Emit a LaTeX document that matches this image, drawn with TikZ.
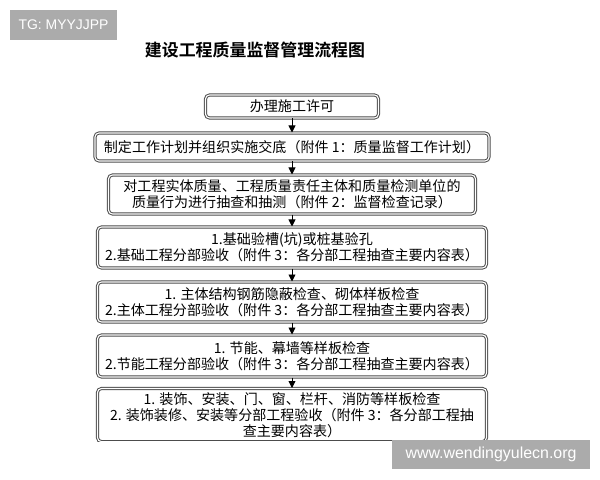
\documentclass[tikz,border=0pt]{standalone}
\usepackage{fontspec}
\newfontfamily\cjk{Noto Sans CJK SC}[BoldFont={Noto Sans CJK SC Bold}]
\setsansfont{Liberation Sans}
\usetikzlibrary{arrows.meta,positioning}

\begin{document}
\begin{tikzpicture}[x=1bp,y=-1bp,
    flowbox/.style={draw=black!70, double=white, double distance=1.1bp, line width=1bp,
      rounded corners=4bp, align=center, inner sep=2bp, font=\cjk\fontsize{14.1}{16}\selectfont},
    flowarrow/.style={-{Triangle[width=7bp,length=7bp]}, line width=0.9bp},
    wmark/.style={fill=black!33, text=white, inner sep=0pt}]
        \useasboundingbox (0,0) rectangle (600,480);

        % Title
        \node[font=\cjk\bfseries\fontsize{17}{17}\selectfont] (title) at (255,50) {建设工程质量监督管理流程图};

        % Steps
        \node[flowbox, minimum width=173bp, minimum height=23bp] (permit) at (292,106.5) {办理施工许可};
        \node[flowbox, minimum width=394bp, minimum height=28bp] (plan) at (292,147) {制定工作计划并组织实施交底（附件 1：质量监督工作计划）};
        \node[flowbox, minimum width=367bp, minimum height=39bp] (check) at (292,194.5) {对工程实体质量、工程质量责任主体和质量检测单位的\\质量行为进行抽查和抽测（附件 2：监督检查记录）};
        \node[flowbox, minimum width=389bp, minimum height=41bp] (found) at (292,247.5) {1.基础验槽(坑)或桩基验孔\\2.基础工程分部验收（附件 3：各分部工程抽查主要内容表）};
        \node[flowbox, minimum width=389bp, minimum height=40bp] (frame) at (292,302) {1. 主体结构钢筋隐蔽检查、砌体样板检查\\2.主体工程分部验收（附件 3：各分部工程抽查主要内容表）};
        \node[flowbox, minimum width=389bp, minimum height=42bp] (energy) at (292,356) {1. 节能、幕墙等样板检查\\2.节能工程分部验收（附件 3：各分部工程抽查主要内容表）};

        % Last step, cut off at the bottom
        \begin{scope}
            \clip (0,0) rectangle (600,441);
            \node[flowbox, anchor=north, minimum width=389bp, inner ysep=4bp] (finish) at (292,388) {1. 装饰、安装、门、窗、栏杆、消防等样板检查\\2. 装饰装修、安装等分部工程验收（附件 3：各分部工程抽\\查主要内容表）};
        \end{scope}

        % Arrows
        \draw[flowarrow] (permit) -- (plan);
        \draw[flowarrow] (plan) -- (check);
        \draw[flowarrow] (check) -- (found);
        \draw[flowarrow] (found) -- (frame);
        \draw[flowarrow] (frame) -- (energy);
        \draw[flowarrow] (energy) -- (finish);

        % Watermarks
        \node[wmark, minimum width=107bp, minimum height=30bp, font=\sffamily\fontsize{14}{14}\selectfont] (tag) at (63.5,25) {TG: MYYJJPP};
        \node[wmark, minimum width=198bp, minimum height=29bp, font=\sffamily\fontsize{16}{16}\selectfont] (site) at (491,454.5) {www.wendingyulecn.org};
    \end{tikzpicture}
\end{document}
